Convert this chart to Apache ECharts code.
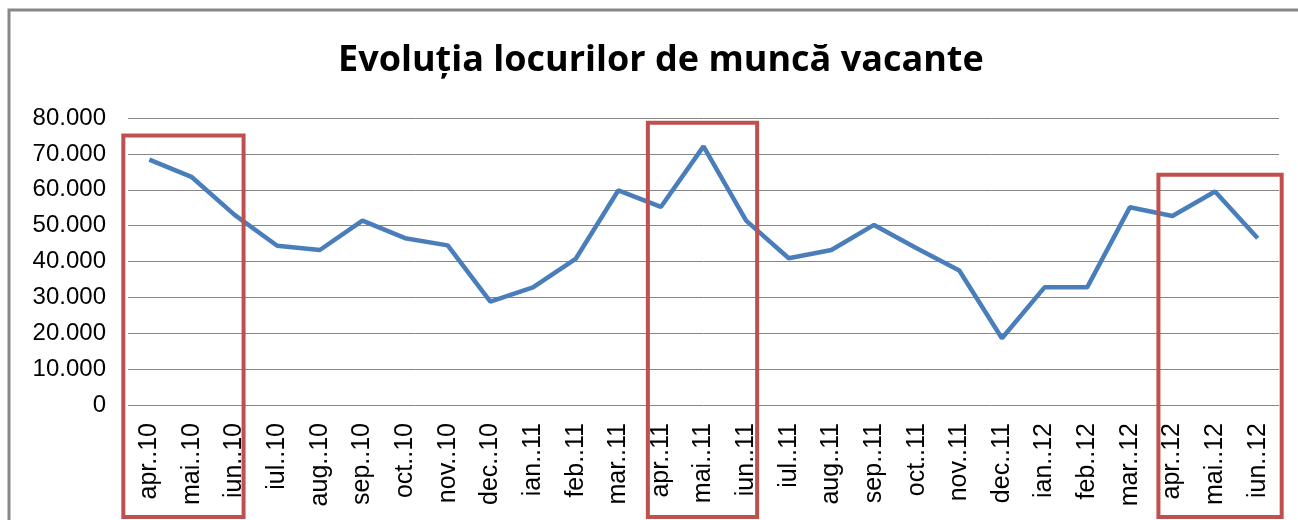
<!DOCTYPE html>
<html>
<head>
<meta charset="utf-8">
<script src="https://cdn.jsdelivr.net/npm/echarts@6/dist/echarts.min.js"></script>
<style>
  html, body { margin: 0; padding: 0; background: #fff; }
  #chart { width: 1298px; height: 520px; }
</style>
</head>
<body>
<div id="chart"></div>
<script>
// luni (categorii) si valori
var luni = ['apr..10', 'mai..10', 'iun..10', 'iul..10', 'aug..10', 'sep..10', 'oct..10', 'nov..10', 'dec..10',
            'ian..11', 'feb..11', 'mar..11', 'apr..11', 'mai..11', 'iun..11', 'iul..11', 'aug..11', 'sep..11',
            'oct..11', 'nov..11', 'dec..11', 'ian..12', 'feb..12', 'mar..12', 'apr..12', 'mai..12', 'iun..12'];
var locuriVacante = [68400, 63500, 53000, 44400, 43200, 51400, 46500, 44500, 28800,
                     32800, 40700, 59800, 55200, 72100, 51400, 40900, 43200, 50200,
                     43700, 37500, 18600, 32800, 32800, 55100, 52700, 59500, 46500];
// chenare rosii: [prima luna, ultima luna, valoarea de sus]
var chenare = [
    ['apr..10', 'iun..10', 75100],
    ['apr..11', 'iun..11', 78700],
    ['apr..12', 'iun..12', 64200]
];
var chenarePad = [[26, 9], [13, 11], [14, 24]];

var chart = echarts.init(document.getElementById('chart'));

function fmt(v) {
    return v === 0 ? '0' : String(v).replace(/\B(?=(\d{3})+(?!\d))/g, '.');
}

var option = {
    animation: false,
    backgroundColor: '#fff',
    title: {
        text: 'Evoluția locurilor de muncă vacante',
        left: 333,
        top: 38,
        textStyle: {
            fontFamily: 'Open Sans',
            fontWeight: 'bold',
            fontSize: 36,
            color: '#000'
        }
    },
    grid: { left: 128, right: 19, top: 118, bottom: 115 },
    xAxis: {
        type: 'category',
        data: luni,
        boundaryGap: true,
        axisLine: { show: false },
        axisTick: { show: false },
        axisLabel: {
            interval: 0,
            rotate: 90,
            margin: 18,
            fontFamily: 'Liberation Sans',
            fontSize: 25,
            color: '#000'
        }
    },
    yAxis: {
        type: 'value',
        min: 0,
        max: 80000,
        interval: 10000,
        axisLine: { show: false },
        axisTick: { show: false },
        splitLine: { lineStyle: { color: '#868686', width: 1 } },
        axisLabel: {
            margin: 22,
            fontFamily: 'Liberation Sans',
            fontSize: 24,
            color: '#000',
            formatter: fmt
        }
    },
    series: [{
        type: 'line',
        data: locuriVacante,
        symbol: 'none',
        lineStyle: { color: '#4a7ebb', width: 4.5 }
    }]
};
chart.setOption(option);

// chenarul graficului si chenarele rosii, pozitionate dupa axe
var graphics = [{
    type: 'rect',
    shape: { x: 9, y: 10, width: 2000, height: 1000 },
    style: { fill: null, stroke: '#888', lineWidth: 3 },
    z: 0
}];
for (var i = 0; i < chenare.length; i++) {
    var c = chenare[i];
    var p1 = chart.convertToPixel({ gridIndex: 0 }, [c[0], c[2]]);
    var p2 = chart.convertToPixel({ gridIndex: 0 }, [c[1], c[2]]);
    var x0 = p1[0] - chenarePad[i][0];
    var x1 = p2[0] + chenarePad[i][1];
    graphics.push({
        type: 'rect',
        shape: { x: x0, y: p1[1], width: x1 - x0, height: 517 - p1[1] },
        style: { fill: null, stroke: '#c0504d', lineWidth: 4 },
        z: 100
    });
}
chart.setOption({ graphic: graphics });
</script>
</body>
</html>
